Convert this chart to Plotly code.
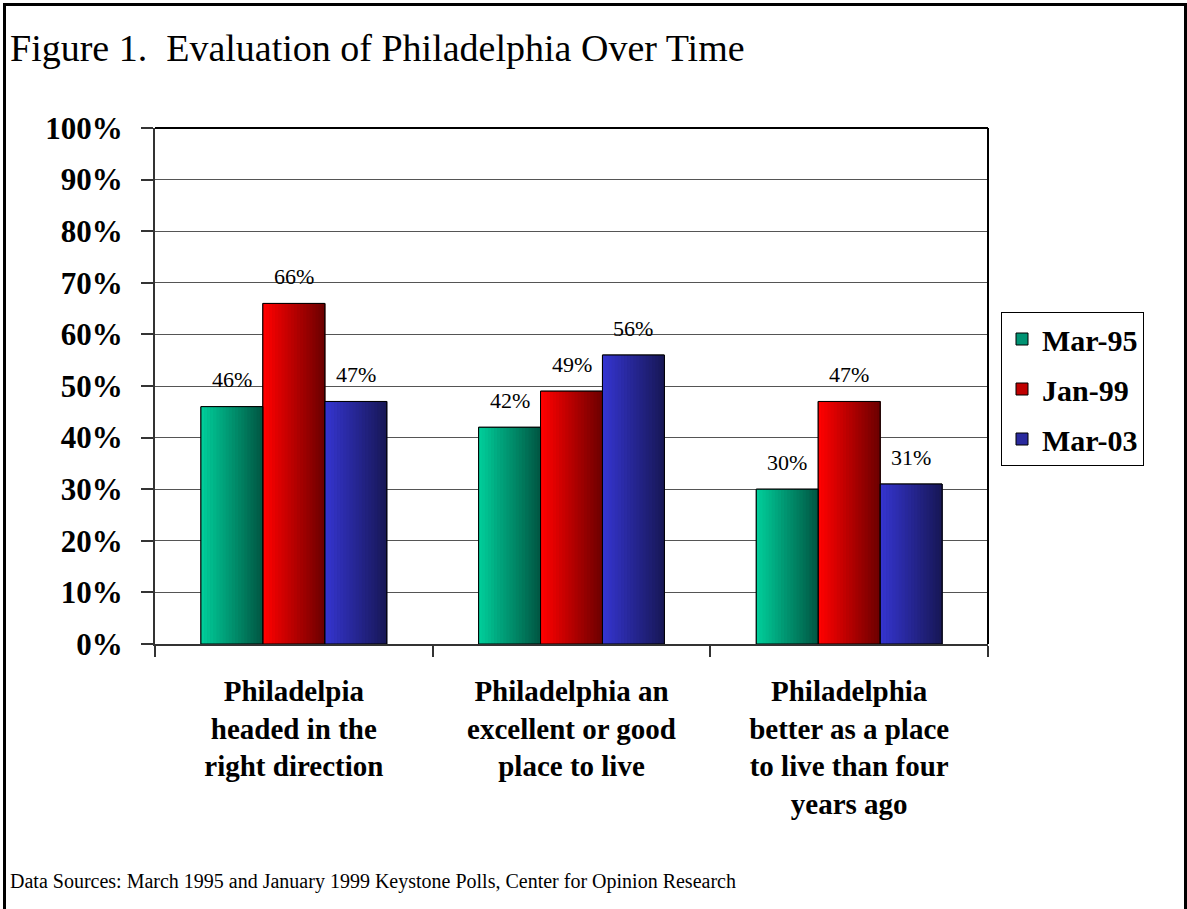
import plotly.graph_objects as go

# ---- data ----
categories = [
    "Philadelpia<br>headed in the<br>right direction",
    "Philadelphia an<br>excellent or good<br>place to live",
    "Philadelphia<br>better as a place<br>to live than four<br>years ago",
]
series_names = ["Mar-95", "Jan-99", "Mar-03"]
mar95 = [46, 42, 30]
jan99 = [66, 49, 47]
mar03 = [47, 56, 31]
y_ticks = [0, 10, 20, 30, 40, 50, 60, 70, 80, 90, 100]
title_text = "Figure 1.  Evaluation of Philadelphia Over Time"
source_text = "Data Sources: March 1995 and January 1999 Keystone Polls, Center for Opinion Research"

# ---- styles ----
grad = {
    "Mar-95": ((0, 204, 153), (0, 88, 68)),
    "Jan-99": ((255, 0, 0), (110, 0, 0)),
    "Mar-03": ((52, 52, 206), (24, 24, 88)),
}
mid = {"Mar-95": "#009373", "Jan-99": "#c00000", "Mar-03": "#2a2a9e"}
bar_w = 0.223
offsets = [-1.5 * bar_w, -0.5 * bar_w, 0.5 * bar_w]
N = 20
serif = "Liberation Serif, Times New Roman, serif"

fig = go.Figure()
all_vals = [mar95, jan99, mar03]

# legend / base bars
for name, vals, off in zip(series_names, all_vals, offsets):
    fig.add_trace(go.Bar(
        x=categories, y=vals, name=name, width=bar_w, offset=off,
        marker=dict(color=mid[name], line=dict(color="black", width=1)),
        legendgroup=name, hoverinfo="skip",
    ))

# gradient strips
for name, vals, off in zip(series_names, all_vals, offsets):
    c0, c1 = grad[name]
    for i in range(N):
        t = i / (N - 1)
        c = tuple(round(c0[k] + (c1[k] - c0[k]) * t) for k in range(3))
        fig.add_trace(go.Bar(
            x=categories, y=vals, width=bar_w / N + 0.002, offset=off + i * bar_w / N,
            marker=dict(color="rgb(%d,%d,%d)" % c, line=dict(width=0)),
            showlegend=False, legendgroup=name, hoverinfo="skip",
        ))

# outlines
for name, vals, off in zip(series_names, all_vals, offsets):
    fig.add_trace(go.Bar(
        x=categories, y=vals, width=bar_w, offset=off,
        marker=dict(color="rgba(0,0,0,0)", line=dict(color="black", width=1)),
        showlegend=False, legendgroup=name, hoverinfo="skip",
    ))

# value labels
for vals, off in zip(all_vals, offsets):
    for ci, v in enumerate(vals):
        fig.add_annotation(
            x=ci + off + bar_w / 2, y=v, text="%d%%" % v, showarrow=False,
            yshift=27, yanchor="middle", xanchor="center",
            font=dict(family=serif, size=22, color="black"),
        )

fig.add_annotation(
    xref="paper", yref="paper", x=-0.176, y=-0.461, xanchor="left", yanchor="middle",
    text=source_text, showarrow=False,
    font=dict(family=serif, size=20, color="black"),
)

# outer border
fig.add_shape(type="rect", xref="paper", yref="paper",
              x0=(4.5 - 155) / 833, x1=(1185.5 - 155) / 833,
              y0=(644 - 930) / 516, y1=(644 - 4.5) / 516,
              line=dict(color="black", width=3), fillcolor="rgba(0,0,0,0)", layer="above")

fig.update_layout(
    width=1187, height=909,
    margin=dict(l=155, r=199, t=128, b=265),
    paper_bgcolor="white", plot_bgcolor="white",
    barmode="overlay",
    title=dict(text=title_text, x=10 / 1187, xanchor="left", xref="container",
               y=1 - 48 / 909, yanchor="middle", yref="container",
               font=dict(family=serif, size=38, color="black")),
    legend=dict(
        x=(1001 - 155) / 833, xanchor="left", y=(644 - 312) / 516, yanchor="top",
        bordercolor="black", borderwidth=1, bgcolor="white",
        font=dict(family=serif, size=30, color="black", weight="bold"),
        traceorder="grouped", tracegroupgap=8,
    ),
    showlegend=True,
)

fig.update_xaxes(
    type="category", tickson="boundaries", ticks="outside", ticklen=11, tickwidth=1.5,
    tickcolor="#333", showline=True, linecolor="#333", linewidth=2, mirror=False,
    tickfont=dict(family=serif, size=29, color="black", weight="bold"),
    ticklabelstandoff=20,
    showgrid=False, range=[-0.5, 2.5],
)
fig.update_yaxes(
    range=[0, 100], tickvals=y_ticks, ticktext=["%d%%" % v for v in y_ticks],
    ticks="outside", ticklen=12, tickwidth=1.5, tickcolor="#333",
    showline=True, linecolor="#333", linewidth=2,
    showgrid=True, gridcolor="#555", gridwidth=1,
    tickfont=dict(family=serif, size=31, color="black", weight="bold"),
    ticklabelstandoff=12,
    zeroline=False,
)
# top and right frame lines
fig.add_shape(type="line", xref="paper", yref="paper", x0=0, x1=1, y0=1, y1=1,
              line=dict(color="black", width=2))
fig.add_shape(type="line", xref="paper", yref="paper", x0=1, x1=1, y0=0, y1=1,
              line=dict(color="black", width=2))

fig.write_html("out.html", config={"displayModeBar": False},
               post_script="document.body.style.margin='0';")
